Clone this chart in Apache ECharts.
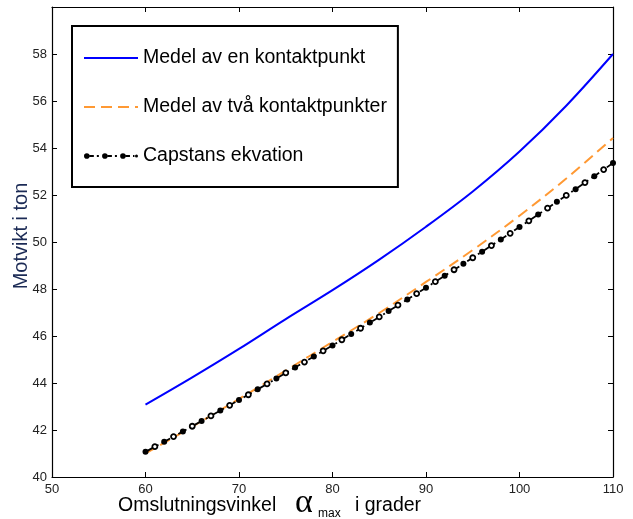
<!DOCTYPE html>
<html>
<head>
<meta charset="utf-8">
<script src="https://cdn.jsdelivr.net/npm/echarts@6/dist/echarts.min.js"></script>
<style>
  html, body { margin: 0; padding: 0; background: #fff; }
  #chart { width: 633px; height: 519px; }
</style>
</head>
<body>
<div id="chart"></div>
<script>
// Wrap angle (degrees) sampled every 5 degrees for the two model curves
const modelAngles = [60, 65, 70, 75, 80, 85, 90, 95, 100, 105, 110];
// Counterweight (tonnes), model with one contact point
const oneContact = [43.08, 44.24, 45.45, 46.72, 47.95, 49.25, 50.65, 52.15, 53.85, 55.80, 58.00];
// Counterweight (tonnes), model with two contact points
const twoContacts = [41.00, 42.14, 43.32, 44.53, 45.75, 46.98, 48.30, 49.66, 51.12, 52.70, 54.43];

// Capstan equation, evaluated at every degree from 60 to 110
const capstanAngles = [60, 61, 62, 63, 64, 65, 66, 67, 68, 69, 70, 71, 72, 73, 74, 75, 76, 77, 78, 79,
  80, 81, 82, 83, 84, 85, 86, 87, 88, 89, 90, 91, 92, 93, 94, 95, 96, 97, 98, 99,
  100, 101, 102, 103, 104, 105, 106, 107, 108, 109, 110];
const capstan = [41.07, 41.29, 41.50, 41.72, 41.94, 42.16, 42.38, 42.60, 42.83, 43.05,
  43.28, 43.50, 43.73, 43.96, 44.19, 44.43, 44.66, 44.89, 45.13, 45.37,
  45.60, 45.84, 46.08, 46.33, 46.57, 46.81, 47.06, 47.31, 47.55, 47.80,
  48.05, 48.31, 48.56, 48.82, 49.07, 49.33, 49.59, 49.85, 50.11, 50.37,
  50.64, 50.90, 51.17, 51.44, 51.71, 51.98, 52.25, 52.53, 52.80, 53.08,
  53.36];

const seriesNames = ['Medel av en kontaktpunkt', 'Medel av två kontaktpunkter', 'Capstans ekvation'];
const xTicks = { min: 50, max: 110, step: 10 };
const yTicks = { min: 40, max: 60, step: 2 };

const pairs = (xs, ys) => xs.map((x, i) => [x, ys[i]]);

// alternate filled dots and small rings along the capstan curve
const capstanData = capstanAngles.map((x, i) => {
  const item = { value: [x, capstan[i]] };
  if (i % 2 === 1 && i !== capstanAngles.length - 1) {
    item.symbolSize = 5;
    item.itemStyle = { color: '#fff', borderColor: '#000', borderWidth: 1.8 };
  }
  return item;
});

// legend glyph for the capstan curve: dots joined by short dashes, with small dots between
const dot = (cx, r) => `M${cx - r},10a${r},${r} 0 1,1 ${2 * r},0a${r},${r} 0 1,1 ${-2 * r},0z`;
const bar = (x0, x1) => `M${x0},9.1H${x1}V10.9H${x0}z`;
const capstanIcon = 'path://' + [
  dot(3, 2.8), bar(5.8, 10), bar(13, 15),
  dot(21, 2.8), bar(23.8, 28), bar(31, 33),
  dot(39, 2.8), bar(41.8, 46), bar(49, 50.5), dot(52.5, 1.5)
].join('');

const font = '"Liberation Sans", Arial, sans-serif';
const axisLine = { show: true, lineStyle: { color: '#000', width: 1.2 } };
const tickIn = { show: true, inside: true, length: 5, lineStyle: { color: '#000', width: 1 } };

const chart = echarts.init(document.getElementById('chart'), null, { renderer: 'canvas' });

chart.setOption({
  backgroundColor: '#fff',
  animation: false,
  grid: { left: 52, right: 20, top: 7, bottom: 42, containLabel: false },
  xAxis: [
    {
      type: 'value', position: 'bottom', min: xTicks.min, max: xTicks.max, interval: xTicks.step,
      axisLine, axisTick: tickIn, splitLine: { show: false },
      axisLabel: { color: '#222', fontSize: 13, fontFamily: font, margin: 6 }
    },
    {
      type: 'value', position: 'top', min: xTicks.min, max: xTicks.max, interval: xTicks.step,
      axisLine, axisTick: tickIn, splitLine: { show: false }, axisLabel: { show: false }
    }
  ],
  yAxis: [
    {
      type: 'value', position: 'left', min: yTicks.min, max: yTicks.max, interval: yTicks.step,
      axisLine, axisTick: tickIn, splitLine: { show: false },
      axisLabel: {
        color: '#222', fontSize: 13, fontFamily: font, margin: 5,
        formatter: v => (v === yTicks.max ? '' : String(v))
      }
    },
    {
      type: 'value', position: 'right', min: yTicks.min, max: yTicks.max, interval: yTicks.step,
      axisLine, axisTick: tickIn, splitLine: { show: false }, axisLabel: { show: false }
    }
  ],
  legend: {
    left: 72, top: 26,
    orient: 'vertical',
    backgroundColor: '#fff',
    borderColor: '#000', borderWidth: 2, borderRadius: 0,
    padding: [22, 11, 21, 11],
    itemWidth: 54, itemHeight: 20, itemGap: 29,
    textStyle: { fontSize: 19.5, color: '#000', fontFamily: font },
    selectedMode: false,
    data: [
      { name: seriesNames[0], itemStyle: { opacity: 0 } },
      { name: seriesNames[1], itemStyle: { opacity: 0 } },
      { name: seriesNames[2], icon: capstanIcon, itemStyle: { color: '#000', borderWidth: 0 } }
    ]
  },
  series: [
    {
      name: seriesNames[0], type: 'line', data: pairs(modelAngles, oneContact),
      smooth: 0.35, symbol: 'none',
      lineStyle: { color: '#0000ff', width: 2 }, itemStyle: { color: '#0000ff' }
    },
    {
      name: seriesNames[1], type: 'line', data: pairs(modelAngles, twoContacts),
      smooth: 0.35, symbol: 'none',
      lineStyle: { color: '#ff9933', width: 2, type: [11, 6] }, itemStyle: { color: '#ff9933' }
    },
    {
      name: seriesNames[2], type: 'line', data: capstanData,
      symbol: 'circle', symbolSize: 6, showAllSymbol: true,
      lineStyle: { color: '#000', width: 1.8, type: [9.3, 3.5, 2, 3.9] },
      itemStyle: { color: '#000' }
    }
  ],
  graphic: [
    {
      type: 'text', x: 21, y: 236, rotation: Math.PI / 2,
      style: { text: 'Motvikt i ton', font: '20px ' + font, fill: '#1b2a55', align: 'center', verticalAlign: 'middle' }
    },
    {
      type: 'text', x: 118, y: 506,
      style: { text: 'Omslutningsvinkel', font: '19.5px ' + font, fill: '#000', align: 'left', verticalAlign: 'middle' }
    },
    {
      type: 'text', x: 295, y: 503,
      style: { text: 'α', font: '34px "Liberation Serif", "DejaVu Serif", serif', fill: '#000', align: 'left', verticalAlign: 'middle' }
    },
    {
      type: 'text', x: 318, y: 514,
      style: { text: 'max', font: '12px ' + font, fill: '#000', align: 'left', verticalAlign: 'middle' }
    },
    {
      type: 'text', x: 355, y: 506,
      style: { text: 'i grader', font: '19.5px ' + font, fill: '#000', align: 'left', verticalAlign: 'middle' }
    }
  ]
});
</script>
</body>
</html>
